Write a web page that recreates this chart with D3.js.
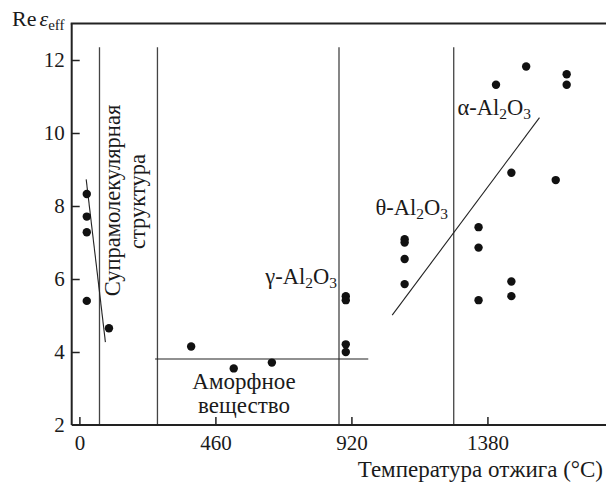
<!DOCTYPE html>
<html><head><meta charset="utf-8">
<script src="https://cdn.jsdelivr.net/npm/d3@7"></script>
<style>
html,body{margin:0;padding:0;background:#fff;}
svg text{font-family:"Liberation Serif","DejaVu Serif",serif !important;fill:#1a1a1a;}
</style></head>
<body><svg id="c" width="606" height="486"></svg>
<script>
// ---- data ----
const xTicks = [0, 460, 920, 1380];
const yTicks = [2, 4, 6, 8, 10, 12];
const supraX = [25, 25, 25, 25, 100];
const supraY = [8.33, 7.71, 7.28, 5.40, 4.65];
const amorphX = [378, 522, 651];
const amorphY = [4.15, 3.55, 3.71];
const gammaX = [901, 901, 901, 901];
const gammaY = [5.53, 5.42, 4.21, 4.00];
const thetaX = [1100, 1100, 1100, 1100];
const thetaY = [7.09, 7.00, 6.55, 5.86];
const alphaX = [1350, 1350, 1350, 1461, 1461, 1461, 1409, 1511, 1611, 1648, 1648];
const alphaY = [7.42, 6.86, 5.42, 5.93, 5.53, 8.91, 11.32, 11.82, 8.71, 11.61, 11.32];
const phaseBounds = [68, 264, 878, 1266];
const phaseTop = 12.35;
const supraFitX = [23, 88], supraFitY = [8.73, 4.27];
const amorphFitX = [256, 977], amorphFitY = [3.81, 3.81];
const crystFitX = [1058, 1556], crystFitY = [5.01, 10.42];

// ---- scales ----
const svg = d3.select("#c");
const L = 71.7, R = 606, T = 23.5, B = 425;
const x = d3.scaleLinear().domain([-26, 1781]).range([L, R]);
const y = d3.scaleLinear().domain([2, 13]).range([B, T]);

// phase boundary lines
svg.append("g").selectAll("line").data(phaseBounds).join("line")
  .attr("x1", d => x(d)).attr("x2", d => x(d))
  .attr("y1", y(phaseTop)).attr("y2", y(2))
  .attr("stroke", "#444").attr("stroke-width", 1.3);

// fit lines
const fits = [[supraFitX, supraFitY], [amorphFitX, amorphFitY], [crystFitX, crystFitY]];
svg.append("g").selectAll("line").data(fits).join("line")
  .attr("x1", d => x(d[0][0])).attr("y1", d => y(d[1][0]))
  .attr("x2", d => x(d[0][1])).attr("y2", d => y(d[1][1]))
  .attr("stroke", "#222").attr("stroke-width", 1.1);

// points
const pts = [];
[[supraX, supraY], [amorphX, amorphY], [gammaX, gammaY], [thetaX, thetaY], [alphaX, alphaY]]
  .forEach(([xs, ys]) => xs.forEach((v, i) => pts.push([v, ys[i]])));
svg.append("g").selectAll("circle").data(pts).join("circle")
  .attr("cx", d => x(d[0])).attr("cy", d => y(d[1])).attr("r", 4.2)
  .attr("fill", "#111");

// axes
const xAxis = d3.axisBottom(x).tickValues(xTicks).tickSize(-8).tickPadding(10.5).tickFormat(d3.format("d"));
const gx = svg.append("g").attr("transform", `translate(0,${B})`).call(xAxis).attr("font-family", null);
gx.select(".domain").attr("d", `M${L},0H${R}`).attr("stroke", "#222").attr("stroke-width", 2);
gx.selectAll(".tick line").attr("stroke", "#222").attr("stroke-width", 1.5);
gx.selectAll(".tick text").attr("font-size", 21).attr("fill", "#1a1a1a");

const yAxis = d3.axisLeft(y).tickValues(yTicks).tickSize(-8).tickPadding(7);
const gy = svg.append("g").attr("transform", `translate(${L},0)`).call(yAxis).attr("font-family", null);
gy.select(".domain").attr("d", `M0,${T}V${B}`).attr("stroke", "#222").attr("stroke-width", 2);
gy.selectAll(".tick line").attr("stroke", "#222").attr("stroke-width", 1.5);
gy.selectAll(".tick").filter(d => d === 2).select("line").remove();
gy.selectAll(".tick text").attr("font-size", 21).attr("fill", "#1a1a1a");

// top frame line
svg.append("line").attr("x1", L - 1).attr("x2", R).attr("y1", T).attr("y2", T)
  .attr("stroke", "#222").attr("stroke-width", 2);

// y title
const yt = svg.append("text").attr("x", 12).attr("y", 26).attr("font-size", 22);
yt.append("tspan").text("Re");
yt.append("tspan").attr("font-style", "italic").attr("dx", 3).text("ε");
yt.append("tspan").attr("font-size", 15).attr("dy", 4).text("eff");

// x title
svg.append("text").attr("x", 603).attr("y", 477).attr("text-anchor", "end")
  .attr("font-size", 23).text("Температура отжига (°C)");

// phase labels with subscripts
function phase(label, xe, yb) {
  const t = svg.append("text").attr("x", xe).attr("y", yb).attr("text-anchor", "end").attr("font-size", 22.5);
  t.append("tspan").text(label + "-Al");
  t.append("tspan").attr("font-size", 15.5).attr("dy", 4).text("2");
  t.append("tspan").attr("dy", -4).text("O");
  t.append("tspan").attr("font-size", 15.5).attr("dy", 4).text("3");
}
phase("γ", 337, 284);
phase("θ", 448, 215);
phase("α", 531, 115);

// amorphous label
svg.append("text").attr("x", 244).attr("y", 389).attr("text-anchor", "middle").attr("font-size", 23).text("Аморфное");
svg.append("text").attr("x", 244).attr("y", 413).attr("text-anchor", "middle").attr("font-size", 23).text("вещество");

// supramolecular label (rotated)
svg.append("text").attr("transform", "translate(120,200.5) rotate(-90)").attr("text-anchor", "middle")
  .attr("font-size", 22.5).text("Супрамолекулярная");
svg.append("text").attr("transform", "translate(144.5,201.5) rotate(-90)").attr("text-anchor", "middle")
  .attr("font-size", 22.5).text("структура");
</script></body></html>
